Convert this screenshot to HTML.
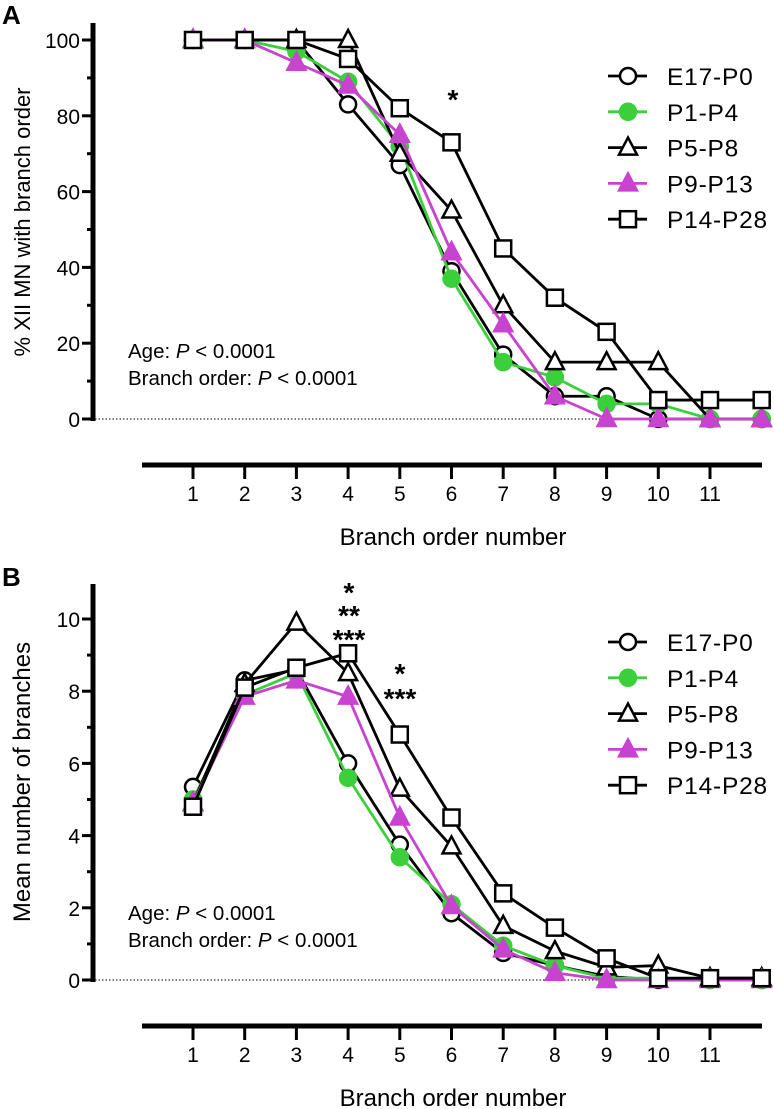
<!DOCTYPE html>
<html><head><meta charset="utf-8"><style>
body{margin:0;background:#fff;}
svg{display:block;font-family:"Liberation Sans",sans-serif;}
</style></head><body>
<svg id="s" width="774" height="1109"></svg>
<script>
const categories=[1,2,3,4,5,6,7,8,9,10,11,12];
const tickLabelsX=["1","2","3","4","5","6","7","8","9","10","11"];
const seriesNames=["E17-P0","P1-P4","P5-P8","P9-P13","P14-P28"];
const A_E17=[100,100,100,83,67,39,17,6,6,0,0,0];
const A_P1=[100,100,97,89,72,37,15,11,4,4,0,0];
const A_P5=[100,100,100,100,70,55,30,15,15,15,0,0];
const A_P9=[100,100,94,88,75,44,25,6,0,0,0,0];
const A_P14=[100,100,100,95,82,73,45,32,23,5,5,5];
const B_E17=[5.35,8.3,8.6,6.0,3.75,1.85,0.75,0.4,0.1,0,0,0];
const B_P1=[5.0,7.9,8.5,5.6,3.4,2.1,0.95,0.4,0.05,0.05,0,0];
const B_P5=[4.9,8.2,9.9,8.5,5.3,3.7,1.5,0.8,0.35,0.4,0.05,0.05];
const B_P9=[4.9,7.85,8.3,7.85,4.5,2.05,0.85,0.2,0,0,0,0];
const B_P14=[4.8,8.1,8.65,9.05,6.8,4.5,2.4,1.45,0.6,0.05,0.05,0.05];
const yTicksA=[0,20,40,60,80,100];
const yTicksB=[0,2,4,6,8,10];

const NS="http://www.w3.org/2000/svg";
const svg=document.getElementById('s');
function el(t,a,p){const e=document.createElementNS(NS,t);for(const k in a)e.setAttribute(k,a[k]);(p||svg).appendChild(e);return e;}
function txt(s,a,p){const e=el('text',a,p);e.textContent=s;return e;}
const styles=[{m:'circle',f:'#fff',c:'#000'},{m:'circle',f:'#3ccf3c',c:'#3ccf3c'},{m:'tri',f:'#fff',c:'#000'},{m:'tri',f:'#c843d0',c:'#c843d0'},{m:'square',f:'#fff',c:'#000'}];
function marker(g,st,x,y){
  const sw=2.5;
  if(st.m==='circle')return el('circle',{cx:x,cy:y,r:8,fill:st.f,stroke:st.f==='#fff'?'#000':st.f,'stroke-width':sw},g);
  if(st.m==='tri')return el('polygon',{points:`${x},${y-10} ${x+9},${y+7} ${x-9},${y+7}`,fill:st.f,stroke:st.f==='#fff'?'#000':st.f,'stroke-width':sw},g);
  return el('rect',{x:x-8,y:y-8,width:16,height:16,fill:st.f,stroke:'#000','stroke-width':sw},g);
}
function panel(o){
  const g=el('g',{});
  
  
  const xs=c=>193+(c-1)*51.7;
  const ys=v=>o.y0-(v/o.max)*(o.y0-o.yTop);
  const L=txt(o.letter,{x:2,y:o.letterY,'font-size':26,'font-weight':'bold'},g);
  
  el('line',{x1:93,y1:o.axTop,x2:93,y2:o.y0+2,stroke:'#000','stroke-width':5},g);
  const step=o.max/10;
  for(let i=0;i<=10;i++){const v=i*step;const y=ys(v);el('line',{x1:i%2===0?82:87,y1:y,x2:93,y2:y,stroke:'#000','stroke-width':3},g);}
  o.ticks.forEach(v=>{const t=txt(String(v),{x:80,y:ys(v)+8,'font-size':21,'text-anchor':'end'},g);});
  el('line',{x1:95,y1:o.y0,x2:765,y2:o.y0,stroke:'#000','stroke-width':1,'stroke-dasharray':'1.5,2'},g);
  const yt=txt(o.ytitle,{transform:`translate(30,${o.ytc}) rotate(-90)`,'font-size':o.ytfs,'text-anchor':'middle'},g);
  
  el('line',{x1:142,y1:o.xAx,x2:762,y2:o.xAx,stroke:'#000','stroke-width':5},g);
  tickLabelsX.forEach((s,i)=>{const x=xs(categories[i]);el('line',{x1:x,y1:o.xAx,x2:x,y2:o.xAx+14,stroke:'#000','stroke-width':3},g);
    const t=txt(s,{x:x,y:o.xAx+36,'font-size':21,'text-anchor':'middle'},g);});
  const xt=txt('Branch order number',{x:453,y:o.xAx+80,'font-size':24,'text-anchor':'middle'},g);
  
  const s1=el('text',{x:128,y:o.statY,'font-size':20.5},g);s1.innerHTML='Age: <tspan font-style="italic">P</tspan> &lt; 0.0001';
  
  const s2=el('text',{x:128,y:o.statY+27,'font-size':20.5},g);s2.innerHTML='Branch order: <tspan font-style="italic">P</tspan> &lt; 0.0001';
  
  o.series.forEach((d,si)=>{
    const st=styles[si];const sg=el('g',{},g);
    
    const pts=d.map((v,i)=>xs(categories[i])+','+ys(v)).join(' ');
    el('polyline',{points:pts,fill:'none',stroke:st.c,'stroke-width':2.8},sg);
    d.forEach((v,i)=>{const m=marker(sg,st,xs(categories[i]),ys(v));});
  });
  seriesNames.forEach((n,i)=>{const y=o.legY+i*35.8;const lg=el('g',{},g);
    
    el('line',{x1:608,y1:y,x2:647,y2:y,stroke:styles[i].c,'stroke-width':2.8},lg);
    marker(lg,styles[i],628,y);
    txt(n,{x:667,y:y+9,'font-size':24.5,'letter-spacing':0.8},lg);});
  o.stars.forEach(s=>{const t=txt(s[0],{x:s[1],y:s[2],'font-size':28,'text-anchor':'middle','font-weight':'bold'},g);});
}
panel({name:'panel-a',letter:'A',letterY:24,axTop:23,yTop:40,y0:419,max:100,ticks:yTicksA,ytitle:'% XII MN with branch order',ytfs:22,ytc:222,xAx:465,statY:358,legY:76,
  series:[A_E17,A_P1,A_P5,A_P9,A_P14],stars:[['*',453,109]]});
panel({name:'panel-b',letter:'B',letterY:586,axTop:584,yTop:619,y0:980,max:10,ticks:yTicksB,ytitle:'Mean number of branches',ytfs:24,ytc:782,xAx:1026,statY:920,legY:642,
  series:[B_E17,B_P1,B_P5,B_P9,B_P14],stars:[['*',349,602],['**',349,625],['***',349,649],['*',400,683],['***',400,708]]});
</script>
</body></html>
